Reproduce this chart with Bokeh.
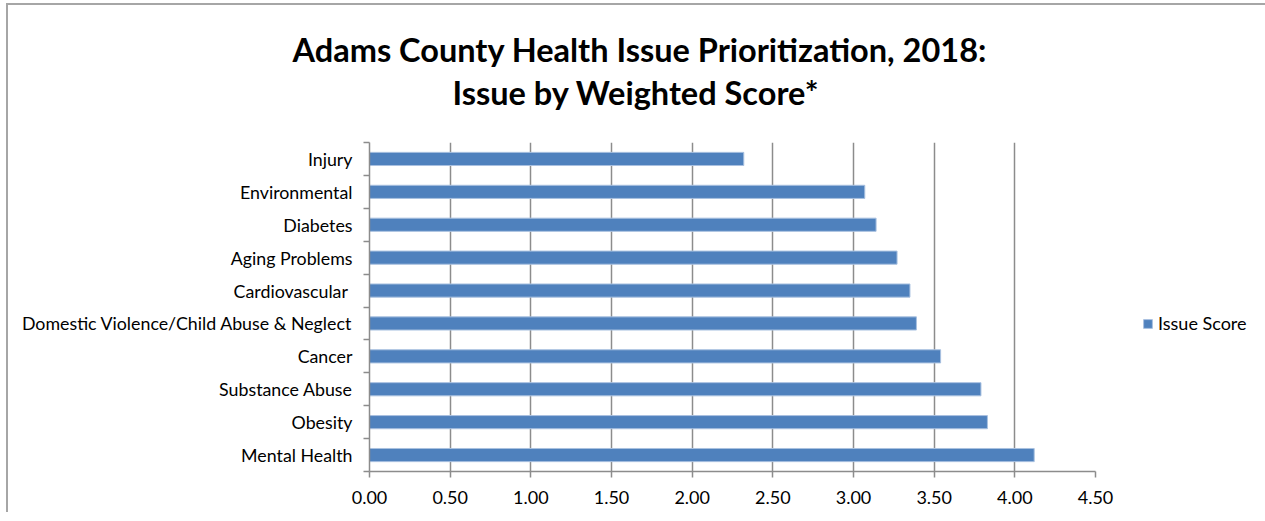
from bokeh.plotting import figure
from bokeh.models import (ColumnDataSource, Range1d, FixedTicker, Title, Legend,
                          LegendItem, NumeralTickFormatter)
from bokeh.embed import file_html
from bokeh.resources import INLINE

# ---- data (top to bottom as shown) ----
categories = ["Injury", "Environmental", "Diabetes", "Aging Problems", "Cardiovascular ",
              "Domestic Violence/Child Abuse & Neglect", "Cancer", "Substance Abuse",
              "Obesity", "Mental Health"]
scores = [2.32, 3.07, 3.14, 3.27, 3.35, 3.39, 3.54, 3.79, 3.83, 4.12]
x_ticks = [0.0, 0.5, 1.0, 1.5, 2.0, 2.5, 3.0, 3.5, 4.0, 4.5]
series_name = "Issue Score"
title_line1 = "Adams County Health Issue Prioritization, 2018:"
title_line2 = "Issue by Weighted Score*"

FONT = "Lato"
BAR = "#4F81BD"
GRID = "#8c8c8c"

n = len(categories)
# position 0 at bottom
ypos = [n - 1 - i for i in range(n)]
src = ColumnDataSource(dict(y=ypos, score=scores, cat=categories))

p = figure(frame_width=726, frame_height=329, output_backend="svg", toolbar_location=None,
           x_range=Range1d(0, 4.5), y_range=Range1d(-0.5, n - 0.5),
           min_border_left=361, min_border_right=160, min_border_bottom=41,
           min_border_top=137, title=None)
p.outline_line_color = None
p.background_fill_color = "white"
p.border_fill_color = "white"

r = p.hbar(y="y", right="score", left=0, height=0.4, source=src,
           fill_color=BAR, line_color="#a9c1e0", line_width=1)

# x axis
p.xaxis.ticker = FixedTicker(ticks=x_ticks)
p.xaxis.formatter = NumeralTickFormatter(format="0.00")
p.xaxis.axis_line_color = GRID
p.xaxis.axis_line_width = 1.5
p.xaxis.major_tick_line_color = GRID
p.xaxis.major_tick_line_width = 1.5
p.xaxis.major_tick_in = 0
p.xaxis.major_tick_out = 6
p.xaxis.minor_tick_line_color = None
p.xaxis.major_label_text_font = FONT
p.xaxis.major_label_text_font_size = "18px"
p.xaxis.major_label_text_color = "#000000"
p.xaxis.major_label_standoff = 13

# y axis: labels at centres, ticks at boundaries
centres = list(range(n))
bounds = [i - 0.5 for i in range(n + 1)]
p.yaxis.ticker = FixedTicker(ticks=centres, minor_ticks=bounds)
p.yaxis.major_label_overrides = {i: categories[n - 1 - i] for i in range(n)}
p.yaxis.axis_line_color = GRID
p.yaxis.axis_line_width = 1.5
p.yaxis.major_tick_line_color = None
p.yaxis.major_tick_out = 0
p.yaxis.major_tick_in = 0
p.yaxis.minor_tick_line_color = GRID
p.yaxis.minor_tick_line_width = 1.5
p.yaxis.minor_tick_in = 0
p.yaxis.minor_tick_out = 6
p.yaxis.major_label_text_font = FONT
p.yaxis.major_label_text_font_size = "17.8px"
p.yaxis.major_label_text_color = "#000000"
p.yaxis.major_label_standoff = 11

p.xgrid.ticker = FixedTicker(ticks=x_ticks)
p.xgrid.grid_line_color = GRID
p.xgrid.grid_line_width = 1.5
p.ygrid.grid_line_color = None

# titles (stacked outward from the frame): spacer, line 2, line 1
p.add_layout(Title(text=" ", text_font=FONT, text_font_size="10px",
                   standoff=16), "above")
p.add_layout(Title(text=title_line2, align="left", offset=83, text_font=FONT,
                   text_font_style="bold", text_font_size="32.5px",
                   text_color="#000000", standoff=2), "above")
p.add_layout(Title(text=title_line1, align="left", offset=-77, text_font=FONT,
                   text_font_style="bold", text_font_size="32.5px",
                   text_color="#000000", standoff=2), "above")

legend = Legend(items=[LegendItem(label=series_name, renderers=[r])],
                location=(47, 137), label_text_font=FONT,
                label_text_font_size="18px", label_text_color="#000000",
                glyph_width=11, glyph_height=11, border_line_color=None,
                background_fill_alpha=0, margin=0, padding=8, label_standoff=5)
p.add_layout(legend, "right")

p.styles = {"border-left": "2px solid #a6a6a6", "border-top": "2px solid #a6a6a6",
            "margin-left": "6px", "margin-top": "3px"}

open("out.html", "w").write(file_html(p, INLINE))
